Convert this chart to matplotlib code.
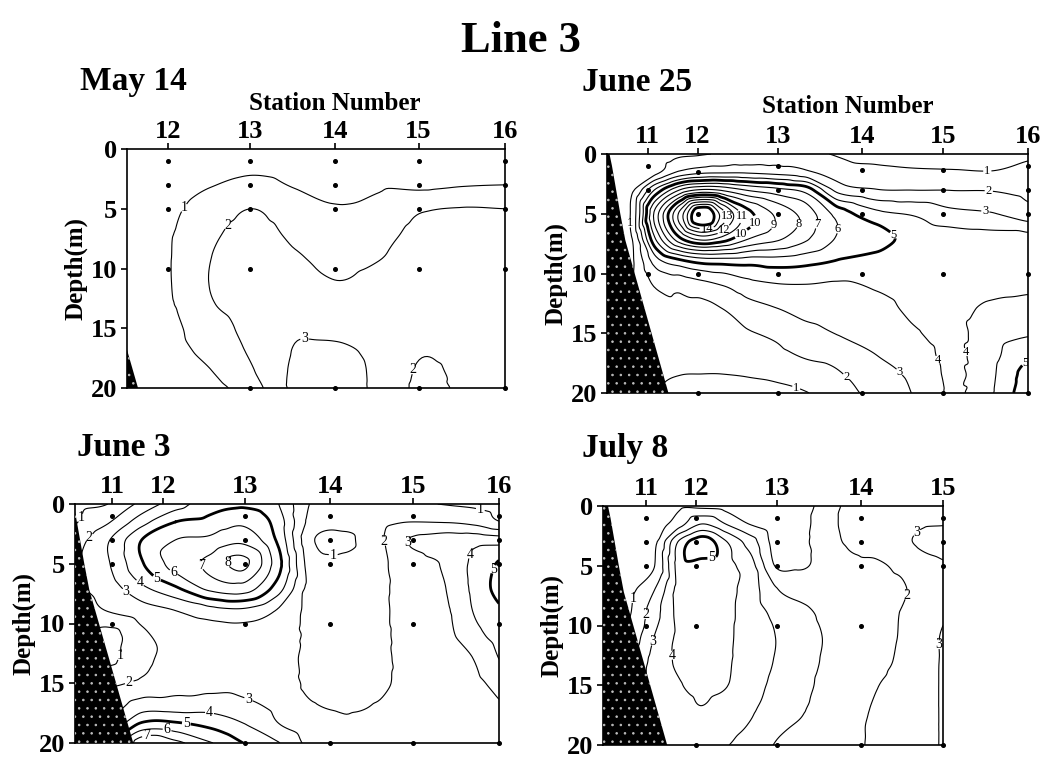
import numpy as np
import matplotlib
matplotlib.use("Agg")
import matplotlib.pyplot as plt
import matplotlib.tri as mtri

plt.rcParams['font.family'] = ['Liberation Serif', 'DejaVu Serif']
plt.rcParams['hatch.linewidth'] = 0.6

# station positions along Line 3 (same distance scale in every panel)
stations = [11, 12, 13, 14, 15, 16]
station_pos = [0.0, 0.6, 1.57, 2.58, 3.56, 4.58]

# depths (m) of the gridded values, top to bottom
depths = [0, 1.5, 3, 5, 7, 9, 11, 13, 15, 17, 18.5, 20]

# bottom profile at the inshore end of the line
bottom_pos = [-0.46, -0.43, -0.38, -0.33, -0.27, 0.25]
bottom_depth = [0, 1, 3, 5, 7.2, 20]

# ---------------- May 14 ----------------
may14_pos = [0.12, 0.6, 1.1, 1.6, 2.1, 2.6, 3.1, 3.6, 4.1, 4.58]
# one list per position, values at `depths`
may14_cols = [
    [0.3, 0.35, 0.45, 0.55, 0.6, 0.65, 0.65, 0.62, 0.58, 0.52, 0.48, 0.45],
    [0.35, 0.45, 0.6, 0.8, 0.9, 0.93, 0.93, 0.88, 0.78, 0.72, 0.65, 0.58],
    [0.5, 0.65, 0.95, 1.4, 1.75, 1.97, 2.03, 1.9, 1.5, 1.25, 0.98, 0.7],
    [0.6, 0.85, 1.2, 2.0, 2.4, 2.55, 2.55, 2.5, 2.35, 2.15, 1.95, 1.6],
    [0.55, 0.75, 0.95, 1.35, 1.75, 2.1, 2.45, 2.7, 2.9, 3.05, 3.15, 3.2],
    [0.5, 0.65, 0.85, 1.05, 1.35, 1.7, 2.0, 2.4, 2.75, 3.2, 3.4, 3.45],
    [0.5, 0.7, 0.9, 1.2, 1.6, 1.95, 2.25, 2.5, 2.65, 2.72, 2.75, 2.75],
    [0.5, 0.65, 0.8, 1.9, 2.35, 2.45, 2.45, 2.4, 2.25, 2.05, 1.9, 1.8],
    [0.5, 0.7, 0.95, 2.05, 2.4, 2.5, 2.5, 2.45, 2.4, 2.3, 2.2, 2.15],
    [0.55, 0.75, 1.0, 2.0, 2.4, 2.5, 2.5, 2.5, 2.45, 2.4, 2.35, 2.3],
]
may14_levels = [1, 2, 3]
may14_samples = {12: [1, 3, 5, 10], 13: [1, 3, 5, 10, 20], 14: [1, 3, 5, 10, 20],
                 15: [1, 3, 5, 10, 20], 16: [1, 3, 5, 10, 20]}
may14_label_at = [(0.81, 5.0), (1.31, 6.4), (2.22, 16.8), (3.51, 18.5)]

# ---------------- June 25 ----------------
jun25_pos = [-0.49, -0.2, 0.1, 0.4, 0.65, 0.9, 1.2, 1.55, 1.9, 2.3, 2.75, 3.2, 3.65, 4.1, 4.58]
jun25_cols = [
    [0.3, 0.4, 0.4, 0.5, 0.5, 0.6, 0.8, 1.0, 1.2, 1.3, 1.4, 1.5],
    [0.4, 0.5, 0.7, 1.1, 0.9, 0.8, 0.9, 1.0, 1.2, 1.3, 1.4, 1.5],
    [0.6, 0.7, 4.2, 7.5, 6.2, 3.5, 2.1, 1.7, 1.4, 1.2, 1.1, 1.0],
    [0.8, 2.2, 7.1, 12.5, 10.1, 4.7, 2.3, 1.8, 1.5, 1.25, 1.0, 0.6],
    [0.9, 2.7, 8.1, 16.3, 11.6, 5.3, 2.6, 1.75, 1.45, 1.2, 0.98, 0.5],
    [1.1, 2.8, 7.8, 13.5, 10.8, 5.4, 3.0, 1.98, 1.55, 1.25, 0.98, 0.5],
    [1.3, 2.8, 6.9, 10.4, 9.2, 5.4, 3.6, 2.6, 1.9, 1.5, 1.05, 0.55],
    [1.5, 2.6, 6.3, 8.8, 8.3, 5.5, 3.9, 2.95, 2.2, 1.7, 1.2, 0.7],
    [1.3, 2.2, 5.6, 7.6, 7.2, 5.3, 3.95, 3.3, 2.7, 2.05, 1.5, 0.95],
    [0.9, 1.5, 2.6, 5.6, 5.9, 4.9, 3.85, 3.4, 3.05, 2.3, 1.9, 1.6],
    [0.6, 1.3, 2.05, 4.3, 5.5, 4.6, 4.1, 3.7, 3.4, 2.95, 2.6, 2.3],
    [0.5, 1.15, 1.98, 3.9, 4.6, 4.5, 4.3, 4.15, 3.9, 3.5, 3.2, 3.05],
    [0.5, 1.1, 1.97, 3.3, 4.4, 4.4, 4.35, 4.3, 4.25, 4.2, 4.15, 4.1],
    [0.5, 1.03, 1.95, 3.1, 4.3, 4.4, 4.3, 3.85, 3.7, 3.75, 3.8, 3.85],
    [0.8, 1.3, 1.7, 2.4, 4.3, 4.45, 4.2, 3.7, 3.9, 4.9, 5.5, 5.8],
]
jun25_levels = list(range(1, 16))
jun25_samples = {11: [1, 3, 10], 12: [1.5, 5, 10, 20], 13: [1, 3, 5, 10, 20],
                 14: [1.3, 3, 5, 10, 20], 15: [1.3, 3, 5, 10, 20], 16: [1, 3, 5, 10, 20]}
jun25_label_at = [(4.09, 1.45), (4.1, 3.8), (4.06, 5.2), (2.96, 6.75), (2.29, 6.3),
                  (2.04, 5.9), (1.84, 5.9), (1.5, 5.9), (1.32, 5.8), (1.11, 6.5),
                  (1.14, 5.2), (0.93, 6.5), (0.97, 5.2), (0.71, 6.2), (-0.21, 5.8),
                  (3.5, 17.2), (3.9, 16.4), (4.46, 16.8), (3.07, 18.0), (2.41, 18.5),
                  (1.8, 19.3)]

# ---------------- June 3 ----------------
jun3_pos = [-0.44, -0.05, 0.35, 0.75, 1.15, 1.55, 1.95, 2.35, 2.75, 3.15, 3.55, 3.95, 4.3, 4.58]
jun3_cols = [
    [0.7, 0.9, 1.5, 1.8, 1.8, 1.5, 1.0, 1.3, 1.8, 2.5, 3.0, 3.5],
    [1.0, 1.9, 2.9, 2.9, 2.5, 2.0, 0.6, 0.8, 1.8, 2.5, 3.0, 3.5],
    [2.3, 3.6, 5.0, 4.9, 3.8, 2.5, 1.8, 1.75, 2.2, 3.6, 5.3, 7.8],
    [3.5, 5.0, 6.0, 6.4, 4.9, 2.95, 2.35, 2.3, 2.6, 3.6, 5.3, 7.3],
    [4.6, 5.3, 6.2, 7.2, 6.3, 3.5, 2.5, 2.4, 2.6, 3.7, 4.8, 6.1],
    [4.8, 5.8, 6.7, 8.25, 6.6, 3.7, 2.6, 2.45, 2.7, 3.3, 4.1, 5.0],
    [4.1, 4.6, 4.9, 5.5, 4.6, 2.9, 2.6, 2.5, 2.6, 2.8, 3.1, 4.1],
    [1.95, 1.7, 1.2, 1.5, 1.65, 1.75, 1.8, 1.75, 1.8, 2.1, 2.4, 2.7],
    [1.5, 1.3, 0.8, 1.25, 1.5, 1.6, 1.7, 1.75, 1.8, 1.95, 2.1, 2.4],
    [1.5, 1.7, 1.8, 1.8, 1.8, 1.8, 1.8, 1.8, 1.85, 2.05, 2.2, 2.4],
    [1.2, 2.0, 3.1, 2.5, 2.45, 2.45, 2.4, 2.35, 2.3, 2.3, 2.3, 2.4],
    [0.95, 1.95, 3.5, 3.15, 3.0, 2.85, 2.75, 2.65, 2.6, 2.5, 2.45, 2.45],
    [0.8, 1.7, 3.6, 4.3, 4.3, 4.1, 3.7, 3.05, 2.8, 2.6, 2.5, 2.5],
    [0.6, 1.05, 3.5, 5.1, 5.4, 4.8, 4.4, 4.0, 3.3, 2.9, 2.7, 2.6],
]
jun3_levels = [1, 2, 3, 4, 5, 6, 7, 8]
jun3_samples = {11: [1, 3, 5, 10], 13: [1, 3, 5, 10, 20], 14: [1, 3, 5, 10, 20],
                15: [1, 3, 5, 10, 20], 16: [1, 3, 5, 10, 20]}
jun3_label_at = [(-0.29, 1.45), (-0.22, 3.1), (0.18, 7.2), (0.33, 6.6), (0.53, 6.2),
                 (0.72, 5.8), (0.95, 5.4), (1.37, 4.9), (0.09, 12.7), (0.21, 15.1),
                 (1.59, 16.8), (1.15, 17.6), (0.88, 18.3), (0.65, 18.9), (0.41, 19.6),
                 (2.62, 4.1), (3.14, 3.3), (3.37, 3.3), (4.35, 0.75), (4.3, 4.35),
                 (4.47, 5.35)]

# ---------------- July 8 ----------------
jul8_pos = [-0.52, -0.2, 0.1, 0.4, 0.67, 0.95, 1.25, 1.55, 1.85, 2.15, 2.45, 2.75, 3.05, 3.3, 3.56]
jul8_cols = [
    [0.3, 0.4, 0.5, 0.6, 0.7, 0.8, 0.9, 1.0, 1.2, 1.5, 1.8, 2.0],
    [0.4, 0.5, 0.6, 0.7, 0.8, 0.95, 1.3, 1.8, 2.2, 2.6, 2.8, 3.0],
    [0.5, 0.6, 0.8, 1.0, 2.0, 2.6, 3.05, 3.4, 3.5, 3.5, 3.5, 3.5],
    [0.8, 1.6, 4.2, 4.5, 4.4, 4.3, 4.2, 4.15, 3.95, 3.7, 3.6, 3.5],
    [0.7, 3.0, 5.6, 4.6, 4.5, 4.45, 4.4, 4.3, 4.2, 3.95, 3.5, 3.2],
    [0.6, 2.0, 4.1, 4.3, 4.3, 4.25, 4.2, 4.15, 4.05, 3.6, 3.3, 3.05],
    [0.5, 0.95, 2.5, 3.4, 3.5, 3.5, 3.5, 3.45, 3.35, 3.15, 2.9, 2.6],
    [0.4, 0.5, 0.65, 0.95, 2.1, 2.8, 3.0, 2.95, 2.8, 2.5, 2.2, 1.95],
    [0.6, 0.65, 0.75, 0.9, 1.6, 2.3, 2.4, 2.4, 2.3, 2.1, 1.9, 1.7],
    [1.4, 1.6, 1.6, 1.3, 1.4, 1.8, 1.95, 1.9, 1.8, 1.7, 1.6, 1.55],
    [2.3, 2.3, 2.15, 1.75, 1.6, 1.6, 1.6, 1.65, 1.75, 1.85, 1.85, 1.85],
    [2.4, 2.5, 2.4, 1.85, 1.7, 1.7, 1.75, 1.85, 1.97, 2.05, 2.1, 2.1],
    [2.5, 2.7, 2.8, 2.2, 1.85, 2.02, 2.05, 2.1, 2.2, 2.25, 2.3, 2.3],
    [2.5, 2.9, 3.15, 2.6, 2.4, 2.4, 2.5, 2.55, 2.6, 2.6, 2.6, 2.6],
    [2.6, 2.95, 3.5, 2.85, 2.7, 2.9, 3.1, 3.1, 3.1, 3.1, 3.1, 3.1],
]
jul8_levels = [1, 2, 3, 4, 5]
jul8_samples = {11: [1, 3, 5, 10], 12: [1, 3, 5, 10, 20], 13: [1, 3, 5, 10, 20],
                14: [1, 3, 5, 10, 20], 15: [1, 3, 5, 20]}
jul8_label_at = [(0.78, 3.9), (-0.09, 7.8), (-0.03, 9.05), (0.07, 11.3), (0.27, 12.5),
                 (3.27, 2.4), (3.15, 7.5), (3.44, 11.6)]


def draw_panel(ax, pos, cols, levels, bold, samples, label_at, xlim, ticks, label_size):
    X, D = np.meshgrid(pos, depths)
    Z = np.array(cols).T
    tri = mtri.Triangulation(X.ravel(), D.ravel())
    interp = mtri.CubicTriInterpolator(tri, Z.ravel(), kind='geom')
    fine_tri, fine_z = mtri.UniformTriRefiner(tri).refine_field(
        Z.ravel(), triinterpolator=interp, subdiv=4)
    widths = [2.0 if lv in bold else 0.8 for lv in levels]
    cs = ax.tricontour(fine_tri, fine_z, levels=levels, colors='k',
                       linewidths=widths, zorder=2)
    ax.clabel(cs, manual=label_at, fmt='%d', fontsize=label_size,
              inline=True, inline_spacing=1)
    for t in cs.labelTexts:
        t.set_rotation(0)

    # sea floor at the inshore end
    ax.fill([-1] + bottom_pos + [-1], [0] + bottom_depth + [20],
            facecolor='black', edgecolor='0.75', hatch='..', lw=0, zorder=3)

    # sample positions
    for st, ds in samples.items():
        x = station_pos[stations.index(st)]
        ax.plot([x] * len(ds), ds, 'o', color='k', ms=2.6, clip_on=False, zorder=4)

    ax.set_xlim(xlim)
    ax.set_ylim(20, 0)
    ax.xaxis.tick_top()
    ax.set_xticks([station_pos[stations.index(s)] for s in ticks])
    ax.set_xticklabels([str(s) for s in ticks])
    ax.set_yticks([0, 5, 10, 15, 20])
    ax.tick_params(axis='both', direction='out', length=4, width=1.2, labelsize=19)
    ax.tick_params(axis='x', pad=0)
    ax.tick_params(axis='y', pad=3)
    for lab in ax.get_xticklabels() + ax.get_yticklabels():
        lab.set_fontweight('bold')
    for sp in ax.spines.values():
        sp.set_linewidth(1.2)
    ax.set_ylabel('Depth(m)', fontsize=18, fontweight='bold', labelpad=2)


W, H = 1042, 757
fig = plt.figure(figsize=(W / 100, H / 100), dpi=100)


def box(left, top, right, bottom):
    return [left / W, 1 - bottom / H, (right - left) / W, (bottom - top) / H]


ax1 = fig.add_axes(box(127, 149, 505, 388))
ax2 = fig.add_axes(box(607, 154, 1028, 393))
ax3 = fig.add_axes(box(75, 504, 499, 743))
ax4 = fig.add_axes(box(603, 506, 943, 745))

draw_panel(ax1, may14_pos, may14_cols, may14_levels, [5], may14_samples,
           may14_label_at, (0.12, 4.58), [12, 13, 14, 15, 16], 10)
draw_panel(ax2, jun25_pos, jun25_cols, jun25_levels, [5, 10, 15], jun25_samples,
           jun25_label_at, (-0.49, 4.58), [11, 12, 13, 14, 15, 16], 9)
draw_panel(ax3, jun3_pos, jun3_cols, jun3_levels, [5], jun3_samples,
           jun3_label_at, (-0.44, 4.58), [11, 12, 13, 14, 15, 16], 10)
draw_panel(ax4, jul8_pos, jul8_cols, jul8_levels, [5], jul8_samples,
           jul8_label_at, (-0.52, 3.56), [11, 12, 13, 14, 15], 10)

fig.text(0.5, 1 - 52 / H, 'Line 3', ha='center', va='baseline', fontsize=32, fontweight='bold')
fig.text(80 / W, 1 - 90 / H, 'May 14', ha='left', va='baseline', fontsize=24, fontweight='bold')
fig.text(582 / W, 1 - 91 / H, 'June 25', ha='left', va='baseline', fontsize=24, fontweight='bold')
fig.text(77 / W, 1 - 456 / H, 'June 3', ha='left', va='baseline', fontsize=24, fontweight='bold')
fig.text(582 / W, 1 - 457 / H, 'July 8', ha='left', va='baseline', fontsize=24, fontweight='bold')
fig.text(335 / W, 1 - 110 / H, 'Station Number', ha='center', va='baseline', fontsize=18, fontweight='bold')
fig.text(848 / W, 1 - 113 / H, 'Station Number', ha='center', va='baseline', fontsize=18, fontweight='bold')

fig.savefig('out.png', dpi=100)
